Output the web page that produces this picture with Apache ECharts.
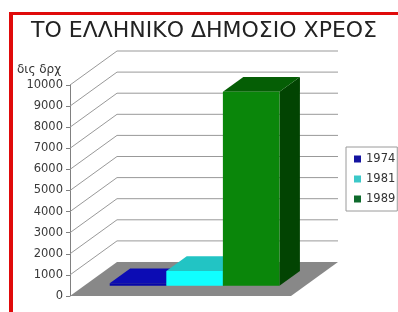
<!DOCTYPE html>
<html>
<head>
<meta charset="utf-8">
<script src="https://cdn.jsdelivr.net/npm/echarts@6/dist/echarts.min.js"></script>
<style>
  html, body { margin: 0; padding: 0; background: #fff; }
  #chart { width: 398px; height: 312px; }
</style>
</head>
<body>
<div id="chart"></div>
<script>
// data (δις δρχ)
var years = ["1974", "1981", "1989"];
var debt = [120, 700, 9200];
var yTicks = [0, 1000, 2000, 3000, 4000, 5000, 6000, 7000, 8000, 9000, 10000];

// 3d look: depth of the floor in pixels, and where the bars sit in it
var DX = 47, DY = 34;
var F1 = 0.3, F2 = 0.735;

var barStyle = [
  { front: "#0606a8", top: "#0c0cb4", side: "#00006c", legend: "#1414a0" },
  { front: "#10ffff", top: "#22c4c4", side: "#008484", legend: "#3cc8c8" },
  { front: "#0a860a", top: "#055e05", side: "#024402", legend: "#0e6a2c" }
];

var font = "DejaVu Sans";

function renderBox(params, api) {
  var cs = params.coordSys;
  var xl = cs.x, xr = cs.x + cs.width;
  var children = [];
  yTicks.forEach(function (v) {
    if (v === 0) return;
    var y = api.coord([0, v])[1];
    children.push({
      type: "polyline",
      shape: { points: [[xl, y], [xl + DX, y - DY], [xr + DX, y - DY]] },
      style: { stroke: "#999999", lineWidth: 1, fill: null }
    });
  });
  var y0 = api.coord([0, 0])[1];
  children.push({
    type: "polygon",
    shape: { points: [[xl, y0], [xr, y0], [xr + DX, y0 - DY], [xl + DX, y0 - DY]] },
    style: { fill: "#888888" }
  });
  return { type: "group", children: children };
}

function renderBar(pos) {
  var c = barStyle[pos];
  return function (params, api) {
    var base = api.coord([api.value(0), 0]);
    var top = api.coord([api.value(0), api.value(1)]);
    var w = api.size([1, 0])[0] * 0.256;
    var x0 = base[0] - 1.5 * w + pos * w + DX * F1;
    var yb = base[1] - DY * F1;
    var yt = top[1] - DY * F1;
    var dx = DX * (F2 - F1), dy = DY * (F2 - F1);
    return {
      type: "group",
      children: [
        {
          type: "polygon",
          shape: { points: [[x0 + w, yt], [x0 + w + dx, yt - dy], [x0 + w + dx, yb - dy], [x0 + w, yb]] },
          style: { fill: c.side }
        },
        {
          type: "polygon",
          shape: { points: [[x0, yt], [x0 + w, yt], [x0 + w + dx, yt - dy], [x0 + dx, yt - dy]] },
          style: { fill: c.top }
        },
        {
          type: "rect",
          shape: { x: x0, y: yt, width: w, height: yb - yt },
          style: { fill: c.front }
        }
      ]
    };
  };
}

var series = [{
  type: "custom",
  silent: true,
  renderItem: renderBox,
  data: [[0, 0]],
  z: 1
}];
years.forEach(function (y, i) {
  series.push({
    name: y,
    type: "custom",
    renderItem: renderBar(i),
    itemStyle: { color: barStyle[i].legend },
    data: [[0, debt[i]]],
    z: 2 + i
  });
});

var chartDom = document.getElementById("chart");
var myChart = echarts.init(chartDom);
var option;

option = {
  backgroundColor: "#fff",
  animation: false,
  title: [
    {
      text: "ΤΟ ΕΛΛΗΝΙΚΟ ΔΗΜΟΣΙΟ ΧΡΕΟΣ",
      left: 31,
      top: 20,
      padding: 0,
      textStyle: { fontFamily: font, fontSize: 22, fontWeight: "normal", color: "#222" }
    },
    {
      text: "δις δρχ",
      left: 17,
      top: 64,
      padding: 0,
      textStyle: { fontFamily: font, fontSize: 12, fontWeight: "normal", color: "#333" }
    }
  ],
  legend: {
    orient: "vertical",
    left: 346,
    top: 147,
    padding: [6, 2, 6, 8],
    itemWidth: 7,
    itemHeight: 7,
    itemGap: 8,
    icon: "rect",
    borderColor: "#9a9a9a",
    borderWidth: 1,
    data: years,
    textStyle: { fontFamily: font, fontSize: 11.5, color: "#333" }
  },
  grid: {
    left: 70,
    right: 107,
    top: 85,
    bottom: 16
  },
  xAxis: {
    type: "category",
    data: [""],
    show: false
  },
  yAxis: {
    type: "value",
    min: 0,
    max: 10000,
    interval: 1000,
    axisLine: { show: true, lineStyle: { color: "#808080" } },
    axisTick: { show: true, length: 4, lineStyle: { color: "#808080" } },
    splitLine: { show: false },
    axisLabel: {
      fontFamily: font,
      fontSize: 11.5,
      color: "#3a3a3a",
      margin: 7,
      formatter: function (v) { return String(v); }
    }
  },
  graphic: [
    { type: "rect", shape: { x: 9, y: 12, width: 4, height: 300 }, style: { fill: "#e00a0a" }, z: 100 },
    { type: "rect", shape: { x: 9, y: 12, width: 389, height: 3 }, style: { fill: "#e00a0a" }, z: 100 }
  ],
  series: series
};

option && myChart.setOption(option);
</script>
</body>
</html>
